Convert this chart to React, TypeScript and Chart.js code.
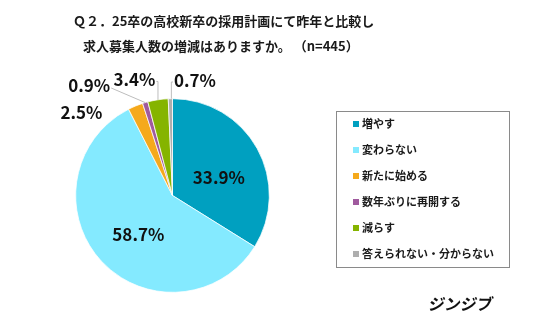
import React, { useEffect, useRef } from "react";
import { Chart, registerables } from "chart.js";

Chart.register(...registerables);

const categories = [
  "増やす",
  "変わらない",
  "新たに始める",
  "数年ぶりに再開する",
  "減らす",
  "答えられない・分からない",
];
const values = [33.9, 58.7, 2.5, 0.9, 3.4, 0.7];
const colors = ["#00A0C0", "#84EAFF", "#F5A91C", "#A05A9E", "#85B400", "#AEAEAE"];
const titleLines = [
  "Ｑ２．25卒の高校新卒の採用計画にて昨年と比較し",
  "求人募集人数の増減はありますか。 （n=445）",
];
const brand = "ジンジブ";

const FONT = '"Noto Sans CJK JP", "Noto Sans", sans-serif';

// label placement relative to slice geometry (layout only)
const labelLayout = [
  { mode: "inside", dx: 4, dy: 5.5, line: "none" },
  { mode: "inside", dx: 1.5, dy: 6, line: "none" },
  { mode: "outside", dx: -54, dy: 6.6, line: "none" },
  { mode: "outside", dx: -56, dy: -16.6, line: "straight" },
  { mode: "outside", dx: -23.5, dy: -19.8, line: "elbowRight" },
  { mode: "outside", dx: 24.6, dy: -18.2, line: "elbowLeft" },
];

const overlayPlugin = {
  id: "overlay",
  afterDraw(chart: any) {
    const ctx: CanvasRenderingContext2D = chart.ctx;
    ctx.save();

    // Title
    ctx.fillStyle = "#1a1a1a";
    ctx.font = `bold 13px ${FONT}`;
    ctx.textBaseline = "middle";
    ctx.textAlign = "left";
    ctx.fillText(titleLines[0], 73, 21.5);
    ctx.fillText(titleLines[1], 83, 46.5);

    // Value labels
    const meta = chart.getDatasetMeta(0);
    const data = chart.data.datasets[0].data as number[];
    ctx.font = `bold 17px ${FONT}`;
    meta.data.forEach((arc: any, i: number) => {
      const p = arc.getProps(["x", "y", "startAngle", "endAngle", "outerRadius"], true);
      const mid = (p.startAngle + p.endAngle) / 2;
      const text = data[i].toFixed(1) + "%";
      const lay = labelLayout[i];
      let cx: number, cy: number;
      const ax = p.x + Math.cos(mid) * p.outerRadius;
      const ay = p.y + Math.sin(mid) * p.outerRadius;
      if (lay.mode === "inside") {
        const c = arc.getCenterPoint(true);
        cx = c.x + lay.dx;
        cy = c.y + lay.dy;
      } else {
        cx = ax + lay.dx;
        cy = ay + lay.dy;
      }
      const w = ctx.measureText(text).width;
      // leader lines
      if (lay.line !== "none") {
        ctx.strokeStyle = "#BDBDBD";
        ctx.lineWidth = 1;
        ctx.beginPath();
        if (lay.line === "straight") {
          ctx.moveTo(cx + w / 2 + 1, cy + 2);
          ctx.lineTo(ax, ay);
        } else if (lay.line === "elbowRight") {
          ctx.moveTo(cx + w / 2 + 1, cy + 1.5);
          ctx.lineTo(ax, cy + 1.5);
          ctx.lineTo(ax, ay);
        } else {
          ctx.moveTo(cx - w / 2 - 1, cy + 1.5);
          ctx.lineTo(ax + 1, cy + 1.5);
          ctx.lineTo(ax + 1, ay);
        }
        ctx.stroke();
      }
      ctx.fillStyle = "#111";
      ctx.textAlign = "center";
      ctx.textBaseline = "middle";
      ctx.fillText(text, cx, cy);
    });

    // Legend box
    const bx = 336.5, by = 111.5, bw = 173, bh = 156;
    ctx.strokeStyle = "#8A8A8A";
    ctx.lineWidth = 1;
    ctx.strokeRect(bx, by, bw, bh);
    ctx.font = `bold 11px ${FONT}`;
    ctx.textAlign = "left";
    ctx.textBaseline = "middle";
    const labels = chart.data.labels as string[];
    const bg = chart.data.datasets[0].backgroundColor as string[];
    labels.forEach((lab, i) => {
      const y = 124 + i * 26;
      ctx.fillStyle = bg[i];
      ctx.fillRect(353, y - 3, 6, 6);
      ctx.fillStyle = "#1a1a1a";
      ctx.fillText(lab, 362, y);
    });

    // Brand
    ctx.save();
    ctx.translate(429, 304);
    ctx.transform(1, 0, -0.2, 1, 0, 0);
    ctx.font = `bold 16px ${FONT}`;
    ctx.fillStyle = "#111";
    ctx.textBaseline = "middle";
    ctx.fillText(brand, 0, 0);
    ctx.restore();

    ctx.restore();
  },
};

export default function App() {
  const ref = useRef<HTMLCanvasElement>(null);
  useEffect(() => {
    document.body.style.margin = "0";
    const chart = new Chart(ref.current as HTMLCanvasElement, {
      type: "pie",
      data: {
        labels: categories,
        datasets: [
          {
            data: values,
            backgroundColor: colors,
            borderWidth: 0.75,
            borderColor: "#ffffff",
            hoverOffset: 0,
          },
        ],
      },
      options: {
        animation: false,
        responsive: false,
        devicePixelRatio: 1,
        layout: {
          padding: { left: 75.3, top: 98.3, right: 266.3, bottom: 25.3 },
        },
        plugins: {
          legend: { display: false },
          tooltip: { enabled: false },
          title: { display: false },
        },
      },
      plugins: [overlayPlugin],
    });
    return () => chart.destroy();
  }, []);
  return (
    <div style={{ width: 536, height: 318, background: "#fff" }}>
      <canvas ref={ref} width={536} height={318} style={{ display: "block" }} />
    </div>
  );
}
